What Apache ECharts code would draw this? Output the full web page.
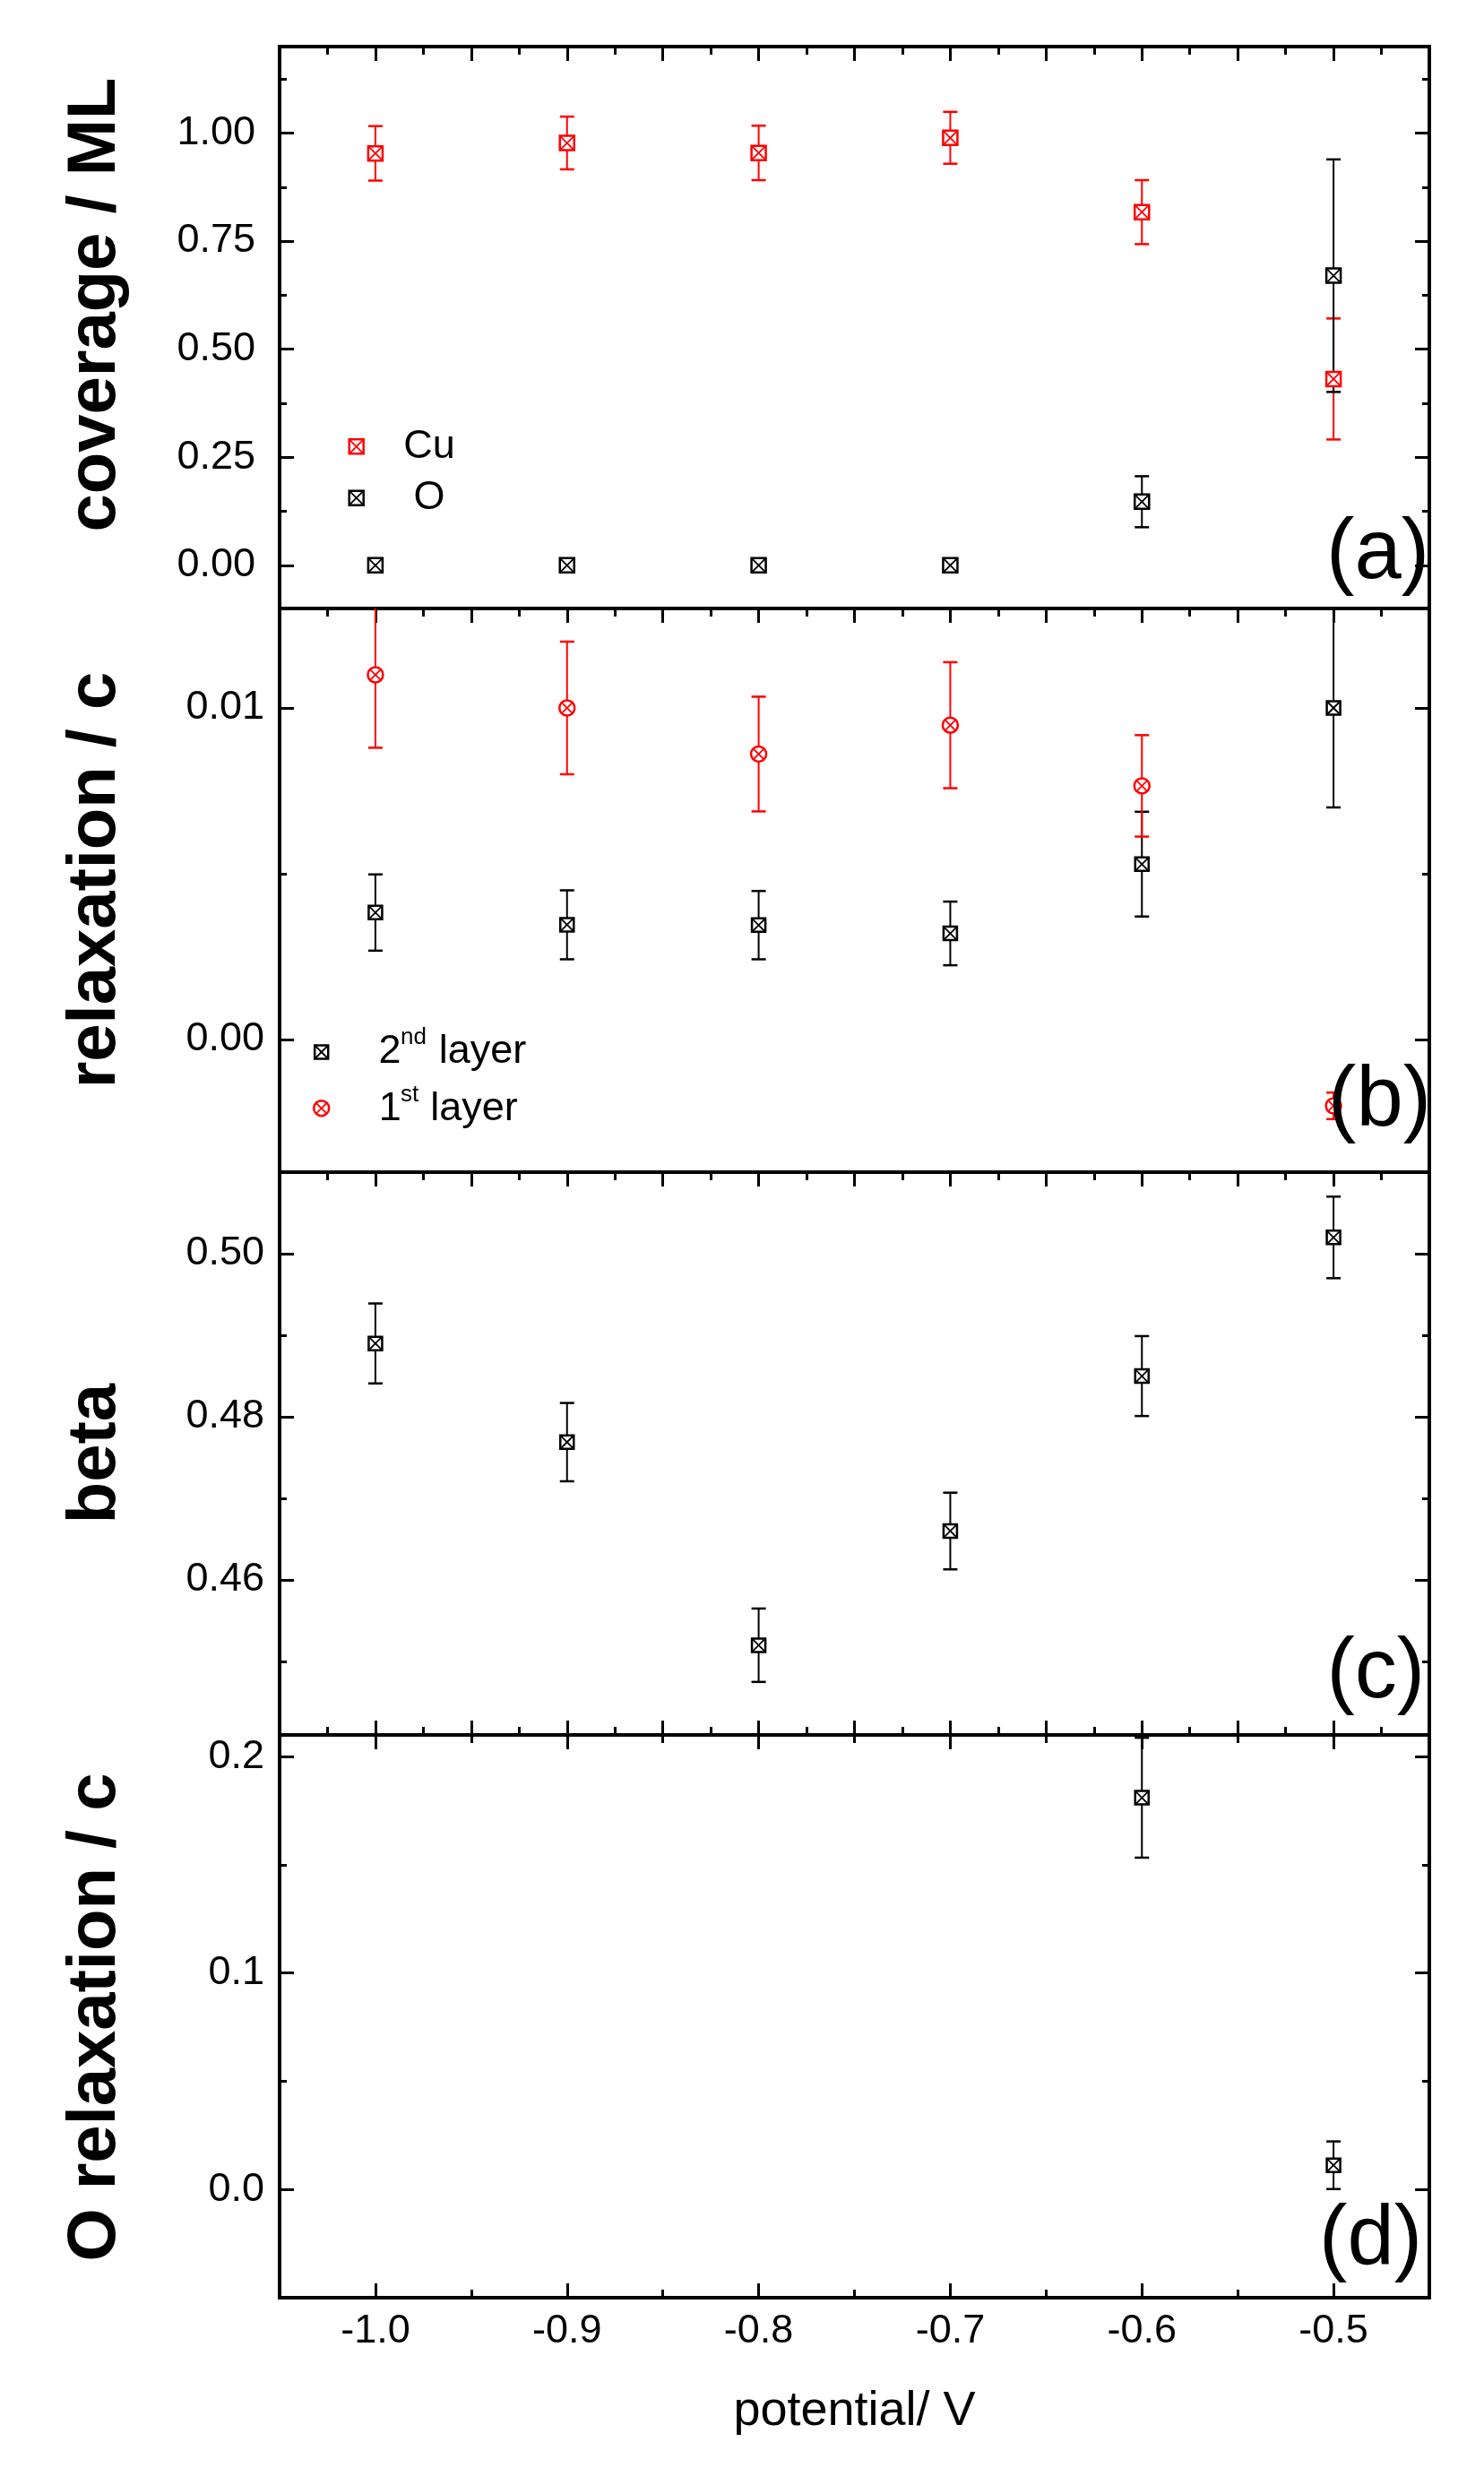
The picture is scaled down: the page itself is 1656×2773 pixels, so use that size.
<!DOCTYPE html>
<html><head><meta charset="utf-8">
<script src="https://cdn.jsdelivr.net/npm/echarts@6/dist/echarts.min.js"></script>
<style>html,body{margin:0;padding:0;background:#fff}#c{width:1656px;height:2773px}</style>
</head><body><div id="c"></div>
<script>
// ---------------- data ----------------
const potential = [-1.0, -0.9, -0.8, -0.7, -0.6, -0.5];
const cuCoverage = [0.953, 0.977, 0.954, 0.989, 0.817, 0.431];
const cuCoverageErr = [0.063, 0.061, 0.063, 0.060, 0.074, 0.140];
const oCoverage = [0, 0, 0, 0, 0.147, 0.670];
const oCoverageErr = [0, 0, 0, 0, 0.059, 0.269];
const relax2nd = [0.00383, 0.00346, 0.00345, 0.00320, 0.00529, 0.0100];
const relax2ndErr = [0.00115, 0.00104, 0.00103, 0.00096, 0.00158, 0.0030];
const relax1st = [0.0110, 0.0100, 0.00861, 0.00948, 0.00765, -0.0020];
const relax1stErr = [0.0022, 0.0020, 0.00173, 0.0019, 0.00153, 0.0004];
const beta = [0.4890, 0.4769, 0.4520, 0.4660, 0.4850, 0.5020];
const betaErr = [0.0049, 0.0048, 0.0045, 0.0047, 0.0049, 0.0050];
const oRelaxPotential = [-0.6, -0.5];
const oRelax = [0.181, 0.0112];
const oRelaxErr = [0.0277, 0.011];

// ---------------- ticks ----------------
const xTickLabels = [-1.0, -0.9, -0.8, -0.7, -0.6, -0.5];
const xMinorCoarse = [-0.95, -0.85, -0.75, -0.65, -0.55];
const xMajorFine = [-1.0, -0.95, -0.9, -0.85, -0.8, -0.75, -0.7, -0.65, -0.6, -0.55, -0.5];
const xMinorFine = [-1.025, -0.975, -0.925, -0.875, -0.825, -0.775, -0.725, -0.675, -0.625, -0.575, -0.525, -0.475];
const aTicks = [0, 0.25, 0.5, 0.75, 1.0];
const aMinor = [0.125, 0.375, 0.625, 0.875, 1.125];
const bTicks = [0, 0.01];
const bMinor = [0.005];
const cTicks = [0.46, 0.48, 0.50];
const cMinor = [0.45, 0.47, 0.49];
const dTicks = [0, 0.1, 0.2];
const dMinor = [0.05, 0.15];

const FONT = '"Liberation Sans", Arial, sans-serif';
const RED = '#ff0000', BLACK = '#000000';

const grids = [
  {top: 52, height: 627},
  {top: 679, height: 629},
  {top: 1308, height: 628},
  {top: 1936, height: 628}
].map(g => Object.assign({left: 312, width: 1283, show: true, borderColor: '#000',
  borderWidth: 4, backgroundColor: 'rgba(0,0,0,0)'}, g));

const xAxes = [], yAxes = [];
function addX(grid, pos, vals, len, labelVals) {
  xAxes.push({
    type: 'value', gridIndex: grid, position: pos, min: -1.05, max: -0.45,
    axisLine: {show: false, onZero: false}, splitLine: {show: false},
    axisTick: {show: true, inside: true, length: len, customValues: vals,
      lineStyle: {color: '#000', width: 3}},
    axisLabel: labelVals ? {show: true, customValues: labelVals, margin: 38,
      verticalAlign: 'middle', fontSize: 45, fontFamily: FONT, color: '#000',
      formatter: v => v.toFixed(1)} : {show: false}
  });
  return xAxes.length - 1;
}
function addY(grid, pos, min, max, vals, len, labelVals, dec, margin) {
  yAxes.push({
    type: 'value', gridIndex: grid, position: pos, min: min, max: max,
    axisLine: {show: false, onZero: false}, splitLine: {show: false},
    axisTick: {show: true, inside: true, length: len, customValues: vals,
      lineStyle: {color: '#000', width: 3}},
    axisLabel: labelVals ? {show: true, customValues: labelVals, margin: margin,
      fontSize: 45, fontFamily: FONT, color: '#000',
      formatter: v => v.toFixed(dec)} : {show: false}
  });
  return yAxes.length - 1;
}

const yRanges = [[-0.1, 1.2], [-0.004, 0.013], [0.441, 0.51], [-0.05, 0.21]];
const yMaj = [aTicks, bTicks, cTicks, dTicks];
const yMin = [aMinor, bMinor, cMinor, dMinor];
const yDec = [2, 2, 2, 1];
const yMargin = [27, 17, 17, 17];
const mainX = [], mainY = [];
for (let g = 0; g < 4; g++) {
  if (g < 3) {
    mainX.push(addX(g, 'top', xMajorFine, 16));
    addX(g, 'top', xMinorFine, 9);
  } else {
    mainX.push(addX(g, 'top', xTickLabels, 16));
    addX(g, 'top', xMinorCoarse, 9);
  }
  if (g === 2) {
    addX(g, 'bottom', xMajorFine, 16);
    addX(g, 'bottom', xMinorFine, 9);
  }
  if (g === 3) {
    addX(g, 'bottom', xTickLabels, 16, xTickLabels);
    addX(g, 'bottom', xMinorCoarse, 9);
  }
  const [mn, mx] = yRanges[g];
  mainY.push(addY(g, 'left', mn, mx, yMaj[g], 16, yMaj[g], yDec[g], yMargin[g]));
  addY(g, 'left', mn, mx, yMin[g], 8);
  addY(g, 'right', mn, mx, yMaj[g], 16);
  addY(g, 'right', mn, mx, yMin[g], 8);
}

function errItem(color) {
  return function (params, api) {
    const x = api.value(0), y = api.value(1), e = api.value(2);
    if (!e) return {type: 'group', children: []};
    const hi = api.coord([x, y + e]), lo = api.coord([x, y - e]);
    const cap = 8;
    return {type: 'group', children: [
      {type: 'line', shape: {x1: hi[0], y1: hi[1], x2: lo[0], y2: lo[1]}, style: {stroke: color, lineWidth: 2}},
      {type: 'line', shape: {x1: hi[0] - cap, y1: hi[1], x2: hi[0] + cap, y2: hi[1]}, style: {stroke: color, lineWidth: 2.5}},
      {type: 'line', shape: {x1: lo[0] - cap, y1: lo[1], x2: lo[0] + cap, y2: lo[1]}, style: {stroke: color, lineWidth: 2.5}}
    ]};
  };
}
function markerShapes(cx, cy, color, shape, size) {
  const h = size / 2;
  const out = [];
  if (shape === 'square') {
    out.push({type: 'rect', shape: {x: cx - h, y: cy - h, width: size, height: size},
      style: {fill: '#fff', stroke: color, lineWidth: 2.5}});
  } else {
    out.push({type: 'circle', shape: {cx: cx, cy: cy, r: h},
      style: {fill: '#fff', stroke: color, lineWidth: 2.5}});
  }
  const d = shape === 'square' ? h : h * 0.72;
  out.push({type: 'line', shape: {x1: cx - d, y1: cy - d, x2: cx + d, y2: cy + d}, style: {stroke: color, lineWidth: 1.8}});
  out.push({type: 'line', shape: {x1: cx - d, y1: cy + d, x2: cx + d, y2: cy - d}, style: {stroke: color, lineWidth: 1.8}});
  return out;
}
function markItem(color, shape, size) {
  return function (params, api) {
    const p = api.coord([api.value(0), api.value(1)]);
    return {type: 'group', children: markerShapes(p[0], p[1], color, shape, size)};
  };
}
const series = [];
function addSet(g, xs, ys, es, color, shape, size) {
  const data = xs.map((x, i) => [x, ys[i], es[i]]);
  series.push({type: 'custom', xAxisIndex: mainX[g], yAxisIndex: mainY[g], clip: true, z: 2,
    silent: true, data: data, renderItem: errItem(color), encode: {x: 0, y: 1}});
  series.push({type: 'custom', xAxisIndex: mainX[g], yAxisIndex: mainY[g], clip: true, z: 5,
    silent: true, data: data, renderItem: markItem(color, shape, size), encode: {x: 0, y: 1}});
}
addSet(0, potential, cuCoverage, cuCoverageErr, RED, 'square', 16);
addSet(0, potential, oCoverage, oCoverageErr, BLACK, 'square', 16);
addSet(1, potential, relax2nd, relax2ndErr, BLACK, 'square', 15);
addSet(1, potential, relax1st, relax1stErr, RED, 'circle', 17);
addSet(2, potential, beta, betaErr, BLACK, 'square', 15);
addSet(3, oRelaxPotential, oRelax, oRelaxErr, BLACK, 'square', 15);

function txt(x, y, text, size, opts) {
  opts = opts || {};
  return {type: 'text', x: x, y: y, rotation: opts.rot || 0, z: 100,
    style: {text: text, font: (opts.bold ? 'bold ' : '') + size + 'px ' + FONT, fill: '#000',
      textAlign: opts.align || 'left', align: opts.align || 'left',
      textVerticalAlign: 'middle', verticalAlign: 'middle'}};
}
const graphics = [
  txt(107, 340, 'coverage / ML', 76, {bold: true, rot: Math.PI / 2, align: 'center'}),
  txt(107, 982, 'relaxation / c', 76, {bold: true, rot: Math.PI / 2, align: 'center'}),
  txt(107, 1622, 'beta', 76, {bold: true, rot: Math.PI / 2, align: 'center'}),
  txt(107, 2251, 'O relaxation / c', 76, {bold: true, rot: Math.PI / 2, align: 'center'}),
  txt(953.5, 2691, 'potential/ V', 54, {align: 'center'}),
  txt(1595, 619, '(a)', 94, {align: 'right'}),
  txt(1597, 1230, '(b)', 94, {align: 'right'}),
  txt(1590, 1868, '(c)', 94, {align: 'right'}),
  txt(1587, 2501, '(d)', 94, {align: 'right'}),
  txt(479, 498.4, 'Cu', 45, {align: 'center'}),
  txt(479, 555.4, 'O', 45, {align: 'center'}),
  txt(422.5, 1173.4, '2', 45),
  txt(447, 1157.7, 'nd', 26),
  txt(489.7, 1173.4, 'layer', 45),
  txt(422.7, 1237.7, '1', 45),
  txt(447, 1222, 'st', 26),
  txt(480.3, 1237.7, 'layer', 45)
];
[[397.7, 498.3, RED, 'square', 16], [397.7, 555.7, BLACK, 'square', 16],
 [358.7, 1174, BLACK, 'square', 15], [358.7, 1236.7, RED, 'circle', 17]].forEach(m => {
  graphics.push({type: 'group', z: 100, children: markerShapes(m[0], m[1], m[2], m[3], m[4])});
});

const chart = echarts.init(document.getElementById('c'), null, {renderer: 'canvas'});
chart.setOption({
  animation: false,
  backgroundColor: '#fff',
  grid: grids,
  xAxis: xAxes,
  yAxis: yAxes,
  series: series,
  graphic: graphics
});
</script></body></html>
